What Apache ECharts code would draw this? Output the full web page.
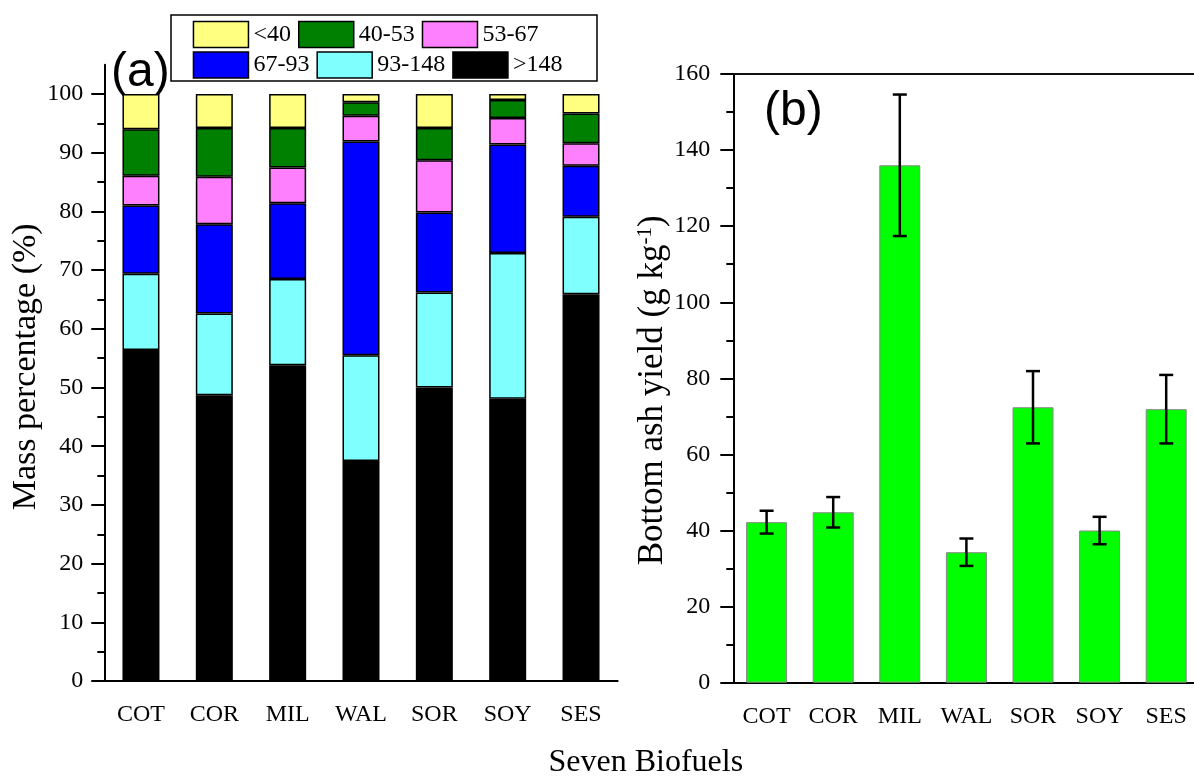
<!DOCTYPE html>
<html>
<head>
<meta charset="utf-8">
<script src="https://cdn.jsdelivr.net/npm/echarts@6/dist/echarts.min.js"></script>
<style>
  html, body { margin: 0; padding: 0; background: #fff; }
  #main { width: 1194px; height: 780px; }
</style>
</head>
<body>
<div id="main"></div>
<script>
const fuels = ['COT', 'COR', 'MIL', 'WAL', 'SOR', 'SOY', 'SES']

// (a) mass percentage of each size class, bottom to top
const gt148 = [56.4, 48.7, 53.8, 37.5, 50.0, 48.1, 65.9]
const r93_148 = [13.0, 13.9, 14.7, 18.0, 16.2, 24.8, 13.2]
const r67_93 = [11.6, 15.2, 12.9, 36.4, 13.6, 18.5, 8.7]
const r53_67 = [5.1, 8.1, 6.1, 4.4, 8.9, 4.5, 3.8]
const r40_53 = [7.9, 8.3, 6.7, 2.3, 5.5, 3.1, 5.1]
const lt40 = [6.0, 5.8, 5.8, 1.4, 5.8, 1.0, 3.3]

// (b) bottom ash yield and its error
const ashYield = [42.2, 44.8, 136.0, 34.3, 72.4, 40.0, 71.9]
const ashErr = [3.0, 4.0, 18.6, 3.6, 9.5, 3.6, 9.0]

const leftMajor = [0, 10, 20, 30, 40, 50, 60, 70, 80, 90, 100]
const leftMinor = [5, 15, 25, 35, 45, 55, 65, 75, 85, 95]
const rightMinor = [10, 30, 50, 70, 90, 110, 130, 150]

const serif = 'Liberation Serif'
const lineStyle = {color: '#000', width: 2}

function stackSeries(name, data, color) {
  return {
    name: name,
    type: 'bar',
    stack: 'mass',
    xAxisIndex: 0,
    yAxisIndex: 0,
    barWidth: 37,
    itemStyle: {color: color, borderColor: '#000', borderWidth: 1.5},
    data: data
  }
}

const errData = ashYield.map((v, i) => [i, v - ashErr[i], v + ashErr[i]])

const legendBase = {
  left: 192.7,
  itemWidth: 55,
  itemHeight: 26,
  itemGap: 7,
  padding: 0,
  icon: 'rect',
  itemStyle: {borderColor: '#000', borderWidth: 1.5},
  textStyle: {fontFamily: serif, fontSize: 24, color: '#000'}
}

const option = {
  animation: false,
  backgroundColor: '#fff',
  legend: [
    Object.assign({}, legendBase, {top: 20.7, data: ['<40', '40-53', '53-67']}),
    Object.assign({}, legendBase, {top: 51.3, data: ['67-93', '93-148', '>148']})
  ],
  grid: [
    {left: 104.3, top: 64.7, width: 513.4, bottom: 99, outerBoundsMode: 'none'},
    {left: 733.3, top: 74, width: 466.2, bottom: 97.3, outerBoundsMode: 'none'}
  ],
  xAxis: [
    {
      type: 'category', gridIndex: 0, data: fuels, position: 'bottom',
      axisLine: {lineStyle: lineStyle},
      axisTick: {alignWithLabel: true, length: 12, lineStyle: lineStyle},
      axisLabel: {interval: 0, fontFamily: serif, fontSize: 24, color: '#000', margin: 22}
    },
    {
      type: 'category', gridIndex: 0, data: fuels, position: 'bottom',
      axisLine: {show: false},
      axisTick: {length: 6, lineStyle: lineStyle},
      axisLabel: {show: false}
    },
    {
      type: 'category', gridIndex: 1, data: fuels, position: 'bottom',
      axisLine: {lineStyle: lineStyle},
      axisTick: {alignWithLabel: true, length: 13, lineStyle: lineStyle},
      axisLabel: {interval: 0, fontFamily: serif, fontSize: 24, color: '#000', margin: 22}
    },
    {
      type: 'category', gridIndex: 1, data: fuels, position: 'bottom',
      axisLine: {show: false},
      axisTick: {length: 7, lineStyle: lineStyle},
      axisLabel: {show: false}
    },
    {
      // top frame line of panel (b)
      type: 'category', gridIndex: 1, data: fuels, position: 'top',
      axisLine: {onZero: false, lineStyle: {color: '#111', width: 2}},
      axisTick: {show: false},
      axisLabel: {show: false}
    }
  ],
  yAxis: [
    {
      type: 'value', gridIndex: 0, min: 0, max: 105, interval: 10, position: 'left',
      name: 'Mass percentage (%)', nameLocation: 'middle', nameGap: 56,
      nameTextStyle: {fontFamily: serif, fontSize: 34, color: '#000', padding: [0, 0, 0, 12]},
      splitLine: {show: false},
      axisLine: {show: true, lineStyle: lineStyle},
      axisTick: {show: true, length: 13, lineStyle: lineStyle, customValues: leftMajor},
      axisLabel: {fontFamily: serif, fontSize: 24, color: '#000', margin: 21, customValues: leftMajor}
    },
    {
      type: 'value', gridIndex: 0, min: 0, max: 105, interval: 10, position: 'left',
      splitLine: {show: false},
      axisLine: {show: false},
      axisTick: {show: true, length: 7, lineStyle: lineStyle, customValues: leftMinor},
      axisLabel: {show: false}
    },
    {
      type: 'value', gridIndex: 1, min: 0, max: 160, interval: 20, position: 'left',
      name: '{t|Bottom ash yield (g kg}{s|-1}{t|)}', nameLocation: 'middle', nameGap: 60,
      nameTextStyle: {
        fontFamily: serif, fontSize: 35, color: '#000', padding: [0, 24, 0, 0],
        rich: {
          t: {fontFamily: serif, fontSize: 35, color: '#000'},
          s: {fontFamily: serif, fontSize: 21, color: '#000', verticalAlign: 'top', padding: [0, 0, 14, 0]}
        }
      },
      splitLine: {show: false},
      axisLine: {show: true, lineStyle: lineStyle},
      axisTick: {show: true, length: 13, lineStyle: lineStyle},
      axisLabel: {fontFamily: serif, fontSize: 24, color: '#000', margin: 23}
    },
    {
      type: 'value', gridIndex: 1, min: 0, max: 160, interval: 20, position: 'left',
      splitLine: {show: false},
      axisLine: {show: false},
      axisTick: {show: true, length: 7, lineStyle: lineStyle, customValues: rightMinor},
      axisLabel: {show: false}
    }
  ],
  series: [
    stackSeries('>148', gt148, '#000000'),
    stackSeries('93-148', r93_148, '#80FFFF'),
    stackSeries('67-93', r67_93, '#0000FF'),
    stackSeries('53-67', r53_67, '#FF80FF'),
    stackSeries('40-53', r40_53, '#008000'),
    stackSeries('<40', lt40, '#FFFF80'),
    {
      name: 'Bottom ash yield',
      type: 'bar',
      xAxisIndex: 2,
      yAxisIndex: 2,
      barWidth: 41,
      itemStyle: {color: '#00FF00', borderColor: '#888888', borderWidth: 1},
      data: ashYield
    },
    {
      name: 'error',
      type: 'custom',
      xAxisIndex: 2,
      yAxisIndex: 2,
      encode: {x: 0, y: [1, 2]},
      data: errData,
      z: 10,
      renderItem: function (params, api) {
        const lo = api.coord([api.value(0), api.value(1)])
        const hi = api.coord([api.value(0), api.value(2)])
        const half = 7
        const st = {stroke: '#000', lineWidth: 2.5}
        return {
          type: 'group',
          children: [
            {type: 'line', shape: {x1: hi[0], y1: hi[1], x2: lo[0], y2: lo[1]}, style: st},
            {type: 'line', shape: {x1: hi[0] - half, y1: hi[1], x2: hi[0] + half, y2: hi[1]}, style: st},
            {type: 'line', shape: {x1: lo[0] - half, y1: lo[1], x2: lo[0] + half, y2: lo[1]}, style: st}
          ]
        }
      }
    }
  ],
  graphic: [
    {
      type: 'rect', z: 0,
      shape: {x: 171, y: 15, width: 426, height: 66},
      style: {fill: '#fff', stroke: '#000', lineWidth: 1.5}
    },
    {
      type: 'text', z: 1, x: 111, y: 73,
      style: {text: '(a)', font: '48px "Liberation Sans"', fill: '#000', textVerticalAlign: 'middle'}
    },
    {
      type: 'text', z: 1, x: 764, y: 112,
      style: {text: '(b)', font: '48px "Liberation Sans"', fill: '#000', textVerticalAlign: 'middle'}
    },
    {
      type: 'text', z: 1, x: 645.8, y: 763,
      style: {text: 'Seven Biofuels', font: '32px "Liberation Serif"', fill: '#000', textAlign: 'center', textVerticalAlign: 'middle'}
    }
  ]
}

const myChart = echarts.init(document.getElementById('main'))
myChart.setOption(option)
</script>
</body>
</html>
